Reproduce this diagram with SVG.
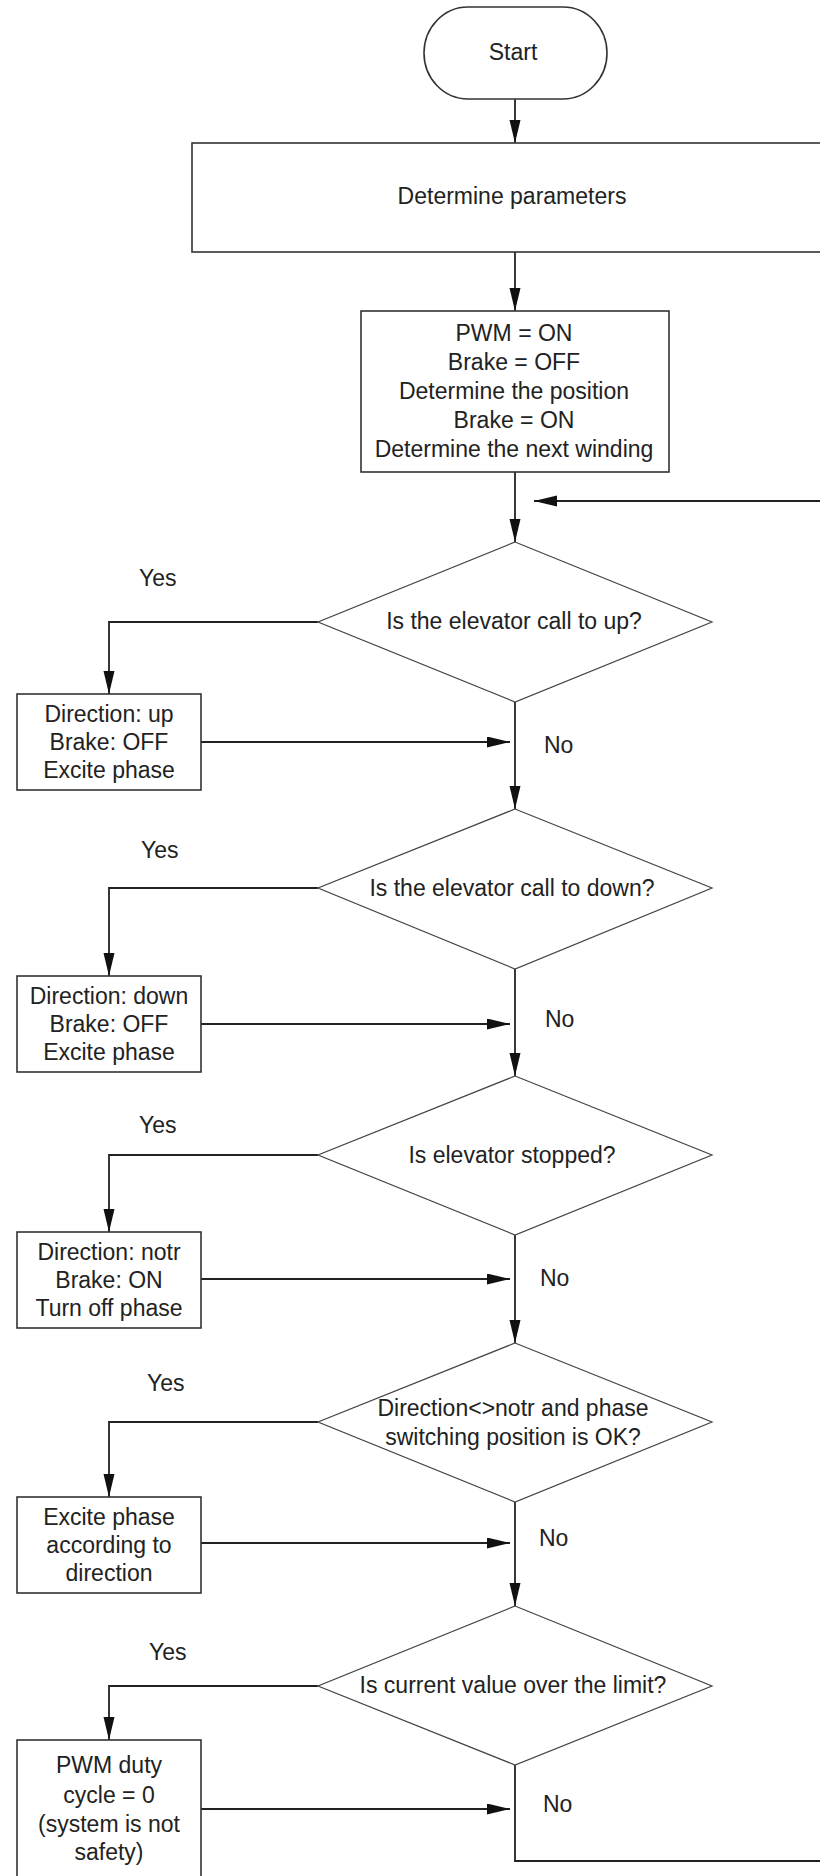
<svg xmlns="http://www.w3.org/2000/svg" width="820" height="1876" viewBox="0 0 820 1876">
<defs>
<marker id="arr" markerUnits="userSpaceOnUse" markerWidth="24" markerHeight="12" refX="23" refY="5.5" orient="auto">
<path d="M0,0 L23,5.5 L0,11 Z" fill="#111"/>
</marker>
<style>
.box{fill:#fff;stroke:#333;stroke-width:1.6}
.dia{fill:#fff;stroke:#444;stroke-width:1.2}
.t{font-family:"Liberation Sans",Arial,sans-serif;font-size:23px;fill:#222;text-anchor:middle}
.lbl{font-family:"Liberation Sans",Arial,sans-serif;font-size:23px;fill:#222}
.c{fill:none;stroke:#222;stroke-width:1.8}
.ca{fill:none;stroke:#222;stroke-width:1.8;marker-end:url(#arr)}
</style>
</defs>
<rect width="820" height="1876" fill="#fff"/>

<g id="connectors">
<path class="ca" d="M515,99 V143"/>
<path class="ca" d="M515,252 V311"/>
<path class="ca" d="M515,472 V542"/>
<path class="ca" d="M515,702 V809"/>
<path class="ca" d="M515,969 V1076"/>
<path class="ca" d="M515,1235 V1343"/>
<path class="ca" d="M515,1502 V1606"/>
<path class="ca" d="M515,1765 V1861 H840 V501 H534"/>
<path class="ca" d="M318,622 H109 V694"/>
<path class="ca" d="M318,888 H109 V976"/>
<path class="ca" d="M318,1155 H109 V1232"/>
<path class="ca" d="M318,1422 H109 V1497"/>
<path class="ca" d="M318,1686 H109 V1740"/>
<path class="ca" d="M201,742 H510"/>
<path class="ca" d="M201,1024 H510"/>
<path class="ca" d="M201,1279 H510"/>
<path class="ca" d="M201,1543 H510"/>
<path class="ca" d="M201,1809 H510"/>
<text class="lbl" x="139" y="586">Yes</text>
<text class="lbl" x="141" y="858">Yes</text>
<text class="lbl" x="139" y="1133">Yes</text>
<text class="lbl" x="147" y="1391">Yes</text>
<text class="lbl" x="149" y="1660">Yes</text>
<text class="lbl" x="544" y="753">No</text>
<text class="lbl" x="545" y="1027">No</text>
<text class="lbl" x="540" y="1286">No</text>
<text class="lbl" x="539" y="1546">No</text>
<text class="lbl" x="543" y="1812">No</text>
</g>

<g id="start">
<rect class="box" x="424" y="7" width="183" height="92" rx="44" ry="46"/>
<text class="t" x="513" y="60">Start</text>
</g>

<g id="params">
<rect class="box" x="192" y="143" width="646" height="109"/>
<text class="t" x="512" y="204">Determine parameters</text>
</g>

<g id="init">
<rect class="box" x="361" y="311" width="308" height="161"/>
<text class="t" x="514" y="341">PWM = ON</text>
<text class="t" x="514" y="370">Brake = OFF</text>
<text class="t" x="514" y="399">Determine the position</text>
<text class="t" x="514" y="428">Brake = ON</text>
<text class="t" x="514" y="457">Determine the next winding</text>
</g>

<g id="d1">
<polygon class="dia" points="515,542 712,622 515,702 318,622"/>
<text class="t" x="514" y="629">Is the elevator call to up?</text>
</g>
<g id="b1">
<rect class="box" x="17" y="694" width="184" height="96"/>
<text class="t" x="109" y="722">Direction: up</text>
<text class="t" x="109" y="750">Brake: OFF</text>
<text class="t" x="109" y="778">Excite phase</text>
</g>

<g id="d2">
<polygon class="dia" points="515,809 712,888 515,969 318,888"/>
<text class="t" x="512" y="896">Is the elevator call to down?</text>
</g>
<g id="b2">
<rect class="box" x="17" y="976" width="184" height="96"/>
<text class="t" x="109" y="1004">Direction: down</text>
<text class="t" x="109" y="1032">Brake: OFF</text>
<text class="t" x="109" y="1060">Excite phase</text>
</g>

<g id="d3">
<polygon class="dia" points="515,1076 712,1155 515,1235 318,1155"/>
<text class="t" x="512" y="1163">Is elevator stopped?</text>
</g>
<g id="b3">
<rect class="box" x="17" y="1232" width="184" height="96"/>
<text class="t" x="109" y="1260">Direction: notr</text>
<text class="t" x="109" y="1288">Brake: ON</text>
<text class="t" x="109" y="1316">Turn off phase</text>
</g>

<g id="d4">
<polygon class="dia" points="515,1343 712,1422 515,1502 318,1422"/>
<text class="t" x="513" y="1416">Direction&lt;&gt;notr and phase</text>
<text class="t" x="513" y="1445">switching position is OK?</text>
</g>
<g id="b4">
<rect class="box" x="17" y="1497" width="184" height="96"/>
<text class="t" x="109" y="1525">Excite phase</text>
<text class="t" x="109" y="1553">according to</text>
<text class="t" x="109" y="1581">direction</text>
</g>

<g id="d5">
<polygon class="dia" points="515,1606 712,1686 515,1765 318,1686"/>
<text class="t" x="513" y="1693">Is current value over the limit?</text>
</g>
<g id="b5">
<rect class="box" x="17" y="1740" width="184" height="150"/>
<text class="t" x="109" y="1773">PWM duty</text>
<text class="t" x="109" y="1803">cycle = 0</text>
<text class="t" x="109" y="1832">(system is not</text>
<text class="t" x="109" y="1860">safety)</text>
</g>
</svg>
